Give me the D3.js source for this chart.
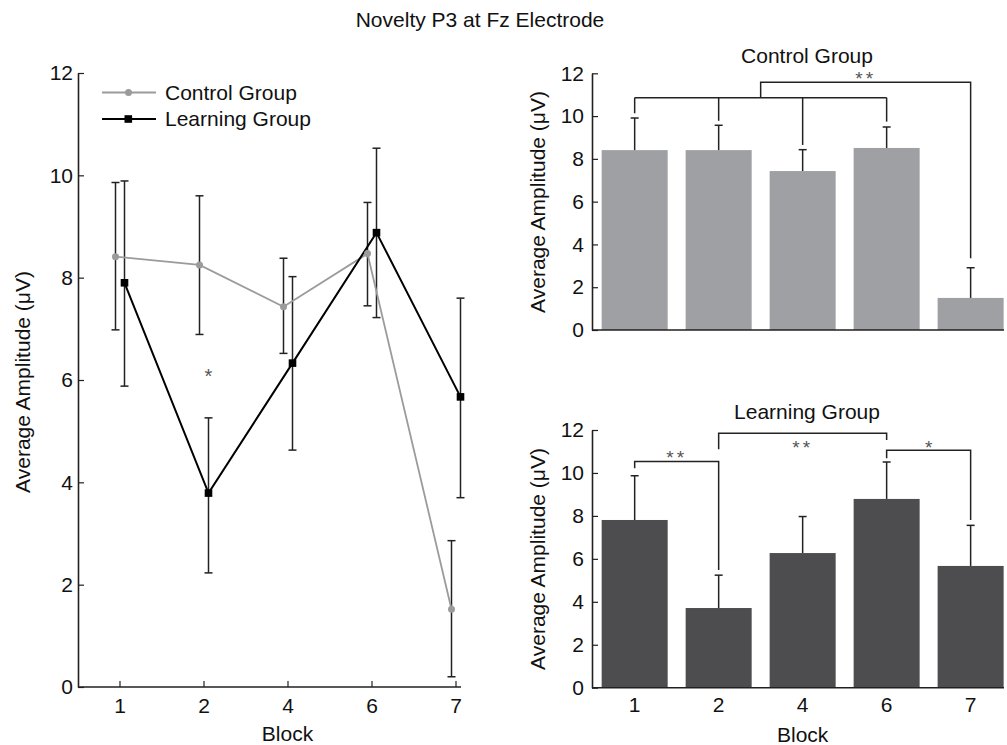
<!DOCTYPE html>
<html>
<head>
<meta charset="utf-8">
<script src="https://cdn.jsdelivr.net/npm/d3@7"></script>
<style>
  html, body { margin: 0; padding: 0; background: #fff; }
  svg { display: block; font-family: "Liberation Sans", Arial, Helvetica, sans-serif; }
</style>
</head>
<body>
<svg id="chart" width="1007" height="745"></svg>
<script>
// ---------- data ----------
const blocks = ["1", "2", "4", "6", "7"];
const yTicks = [0, 2, 4, 6, 8, 10, 12];

// line chart (left)
const controlMean  = [8.41, 8.25, 7.43, 8.47, 1.52];
const controlUpper = [9.86, 9.60, 8.38, 9.47, 2.86];
const controlLower = [6.98, 6.89, 6.52, 7.45, 0.20];
const learningMean  = [7.90, 3.79, 6.33, 8.88, 5.67];
const learningUpper = [9.89, 5.26, 8.02, 10.53, 7.60];
const learningLower = [5.88, 2.23, 4.63, 7.22, 3.70];
const lineStars = [{ block: "2", value: 6.16, label: "*" }];

// bar charts (right)
const barControlMean  = [8.41, 8.41, 7.43, 8.51, 1.50];
const barControlUpper = [9.91, 9.57, 8.43, 9.49, 2.91];
const barLearningMean  = [7.81, 3.71, 6.27, 8.79, 5.67];
const barLearningUpper = [9.87, 5.24, 7.97, 10.51, 7.56];

// significance brackets: [from, to], level, drop ends (value units)
const controlGroupBracket = { members: ["1", "2", "4", "6"], level: 10.86, ends: [10.13, 9.78, 8.65, 9.74] };
const controlOuterBracket = { from: "mid", to: "7", level: 11.58, endTo: 3.35, label: "**", labelValue: 11.99 };
const learningBrackets = [
  { from: "1", to: "2", level: 10.53, endFrom: 10.22, endTo: 5.48, label: "**", labelValue: 10.93 },
  { from: "2", to: "6", level: 11.85, endFrom: 11.10, endTo: 11.54, label: "**", labelValue: 11.41 },
  { from: "6", to: "7", level: 11.06, endFrom: 10.68, endTo: 7.81, label: "*", labelValue: 11.41 }
];

// ---------- styles ----------
const AXIS = "#231f20";
const CONTROL_LINE = "#9b9b9b";
const CONTROL_BAR = "#9fa0a4";
const LEARNING_BAR = "#4d4d4f";
const STAR = "#555";
const FS_TICK = 21, FS_LABEL = 21;

const svg = d3.select("#chart");

svg.append("text").attr("x", 480).attr("y", 27).attr("text-anchor", "middle")
  .attr("font-size", FS_LABEL).attr("fill", "#111").text("Novelty P3 at Fz Electrode");

function styleAxis(g) {
  g.attr("font-family", null).attr("font-size", FS_TICK);
  g.selectAll("text").attr("fill", "#111");
  g.selectAll("line").attr("stroke", AXIS).attr("stroke-width", 1.2);
  g.selectAll("path.domain").attr("stroke", AXIS).attr("stroke-width", 1.6);
}

function starText(g, x, cy, label, fs) {
  g.append("text").attr("x", x).attr("y", cy + 0.58 * fs)
    .attr("text-anchor", "middle").attr("font-size", fs).attr("fill", STAR)
    .attr("letter-spacing", label.length > 1 ? 3 : 0)
    .text(label);
}

// ---------- left: line chart ----------
(function () {
  const yL = d3.scaleLinear().domain([0, 12]).range([687, 73]);
  const xL = d3.scalePoint().domain(blocks).range([119.5, 455.5]);
  const g = svg.append("g");
  const offC = -4, offL = 5, cap = 4;

  const ya = g.append("g").attr("transform", "translate(78,0)")
    .call(d3.axisLeft(yL).tickValues(yTicks).tickSizeInner(-6).tickSizeOuter(0).tickPadding(5));
  styleAxis(ya);

  const xa = g.append("g").attr("transform", "translate(0,687)")
    .call(d3.axisBottom(xL).tickSizeInner(-6).tickSizeOuter(0).tickPadding(11));
  xa.select("path.domain").remove();
  styleAxis(xa);
  g.append("line").attr("x1", 78).attr("x2", 461).attr("y1", 687).attr("y2", 687)
    .attr("stroke", AXIS).attr("stroke-width", 1.6);

  g.append("text").attr("transform", "translate(30,382) rotate(-90)").attr("text-anchor", "middle")
    .attr("font-size", FS_LABEL).attr("fill", "#111").text("Average Amplitude (μV)");
  g.append("text").attr("x", xL("4")).attr("y", 741).attr("text-anchor", "middle")
    .attr("font-size", FS_LABEL).attr("fill", "#111").text("Block");

  function errorBars(mean, up, lo, off) {
    blocks.forEach((b, i) => {
      const x = xL(b) + off;
      g.append("line").attr("x1", x).attr("x2", x).attr("y1", yL(up[i])).attr("y2", yL(lo[i]))
        .attr("stroke", "#222").attr("stroke-width", 1.5);
      [up[i], lo[i]].forEach(v => g.append("line").attr("x1", x - cap).attr("x2", x + cap)
        .attr("y1", yL(v)).attr("y2", yL(v)).attr("stroke", "#222").attr("stroke-width", 1.5));
    });
  }
  errorBars(controlMean, controlUpper, controlLower, offC);
  errorBars(learningMean, learningUpper, learningLower, offL);

  const lineC = d3.line().x((d, i) => xL(blocks[i]) + offC).y(d => yL(d));
  const lineL = d3.line().x((d, i) => xL(blocks[i]) + offL).y(d => yL(d));
  g.append("path").attr("d", lineC(controlMean)).attr("fill", "none")
    .attr("stroke", CONTROL_LINE).attr("stroke-width", 1.8);
  g.append("path").attr("d", lineL(learningMean)).attr("fill", "none")
    .attr("stroke", "#000").attr("stroke-width", 2);
  g.selectAll(".cdot").data(controlMean).join("circle")
    .attr("cx", (d, i) => xL(blocks[i]) + offC).attr("cy", d => yL(d)).attr("r", 3.5).attr("fill", CONTROL_LINE);
  g.selectAll(".lsq").data(learningMean).join("rect")
    .attr("x", (d, i) => xL(blocks[i]) + offL - 3.8).attr("y", d => yL(d) - 3.8)
    .attr("width", 7.6).attr("height", 7.6).attr("fill", "#000");

  lineStars.forEach(s => starText(g, xL(s.block) + offL, yL(s.value), s.label, 20));

  // legend
  const lg = g.append("g");
  lg.append("line").attr("x1", 102).attr("x2", 156).attr("y1", 92.5).attr("y2", 92.5)
    .attr("stroke", CONTROL_LINE).attr("stroke-width", 1.8);
  lg.append("circle").attr("cx", 128.5).attr("cy", 92.5).attr("r", 3.5).attr("fill", CONTROL_LINE);
  lg.append("text").attr("x", 165).attr("y", 100).attr("font-size", FS_LABEL).attr("fill", "#111").text("Control Group");
  lg.append("line").attr("x1", 102).attr("x2", 156).attr("y1", 119).attr("y2", 119)
    .attr("stroke", "#000").attr("stroke-width", 2);
  lg.append("rect").attr("x", 124.5).attr("y", 115.2).attr("width", 7.6).attr("height", 7.6).attr("fill", "#000");
  lg.append("text").attr("x", 165).attr("y", 126).attr("font-size", FS_LABEL).attr("fill", "#111").text("Learning Group");
})();

// ---------- right: bar charts ----------
function barChart(opts) {
  const y = d3.scaleLinear().domain([0, 12]).range([opts.y0, opts.y12]);
  const x = d3.scaleBand().domain(blocks).range([592, 1013.3]).paddingInner(0.214).paddingOuter(0.115);
  const cx = b => x(b) + x.bandwidth() / 2;
  const g = svg.append("g");
  const cap = 4;

  g.selectAll("rect.bar").data(opts.mean).join("rect").attr("class", "bar")
    .attr("x", (d, i) => x(blocks[i])).attr("width", x.bandwidth())
    .attr("y", d => y(d)).attr("height", d => y(0) - y(d)).attr("fill", opts.color);

  blocks.forEach((b, i) => {
    g.append("line").attr("x1", cx(b)).attr("x2", cx(b)).attr("y1", y(opts.mean[i])).attr("y2", y(opts.upper[i]))
      .attr("stroke", "#222").attr("stroke-width", 1.5);
    g.append("line").attr("x1", cx(b) - cap).attr("x2", cx(b) + cap).attr("y1", y(opts.upper[i])).attr("y2", y(opts.upper[i]))
      .attr("stroke", "#222").attr("stroke-width", 1.5);
  });

  const ya = g.append("g").attr("transform", "translate(592,0)")
    .call(d3.axisLeft(y).tickValues(yTicks).tickSizeInner(-6).tickSizeOuter(0).tickPadding(8));
  styleAxis(ya);
  if (opts.showX) {
    const xa = g.append("g").attr("transform", `translate(0,${opts.y0})`)
      .call(d3.axisBottom(x).tickSize(0).tickPadding(9));
    xa.select("path.domain").remove();
    styleAxis(xa);
    g.append("text").attr("x", cx("4")).attr("y", 741.5).attr("text-anchor", "middle")
      .attr("font-size", FS_LABEL).attr("fill", "#111").text("Block");
  }
  g.append("line").attr("x1", 592).attr("x2", 1004).attr("y1", opts.y0).attr("y2", opts.y0)
    .attr("stroke", AXIS).attr("stroke-width", 1.6);

  g.append("text").attr("transform", `translate(545,${opts.labelY}) rotate(-90)`).attr("text-anchor", "middle")
    .attr("font-size", FS_LABEL).attr("fill", "#111").text("Average Amplitude (μV)");
  g.append("text").attr("x", 807).attr("y", opts.titleY).attr("text-anchor", "middle")
    .attr("font-size", FS_LABEL).attr("fill", "#111").text(opts.title);

  return { g, x, y, cx };
}

function bracketPath(g, pts) {
  g.append("path").attr("d", d3.line()(pts)).attr("fill", "none")
    .attr("stroke", "#222").attr("stroke-width", 1.5);
}

// top: control
(function () {
  const { g, y, cx } = barChart({ y0: 330, y12: 73.3, mean: barControlMean, upper: barControlUpper,
    color: CONTROL_BAR, title: "Control Group", titleY: 62.5, labelY: 202, showX: false });
  const m = controlGroupBracket;
  const xs = m.members.map(cx);
  bracketPath(g, [[xs[0], y(m.level)], [xs[xs.length - 1], y(m.level)]]);
  m.members.forEach((b, i) => bracketPath(g, [[cx(b), y(m.level)], [cx(b), y(m.ends[i])]]));
  const mid = (xs[0] + xs[xs.length - 1]) / 2;
  const o = controlOuterBracket;
  bracketPath(g, [[mid, y(m.level)], [mid, y(o.level)], [cx(o.to), y(o.level)], [cx(o.to), y(o.endTo)]]);
  starText(g, (mid + cx(o.to)) / 2, y(o.labelValue), o.label, 19);
})();

// bottom: learning
(function () {
  const { g, y, cx } = barChart({ y0: 687.7, y12: 430, mean: barLearningMean, upper: barLearningUpper,
    color: LEARNING_BAR, title: "Learning Group", titleY: 418.5, labelY: 559, showX: true });
  learningBrackets.forEach(br => {
    bracketPath(g, [[cx(br.from), y(br.endFrom)], [cx(br.from), y(br.level)], [cx(br.to), y(br.level)], [cx(br.to), y(br.endTo)]]);
    starText(g, (cx(br.from) + cx(br.to)) / 2, y(br.labelValue), br.label, 19);
  });
})();
</script>
</body>
</html>
